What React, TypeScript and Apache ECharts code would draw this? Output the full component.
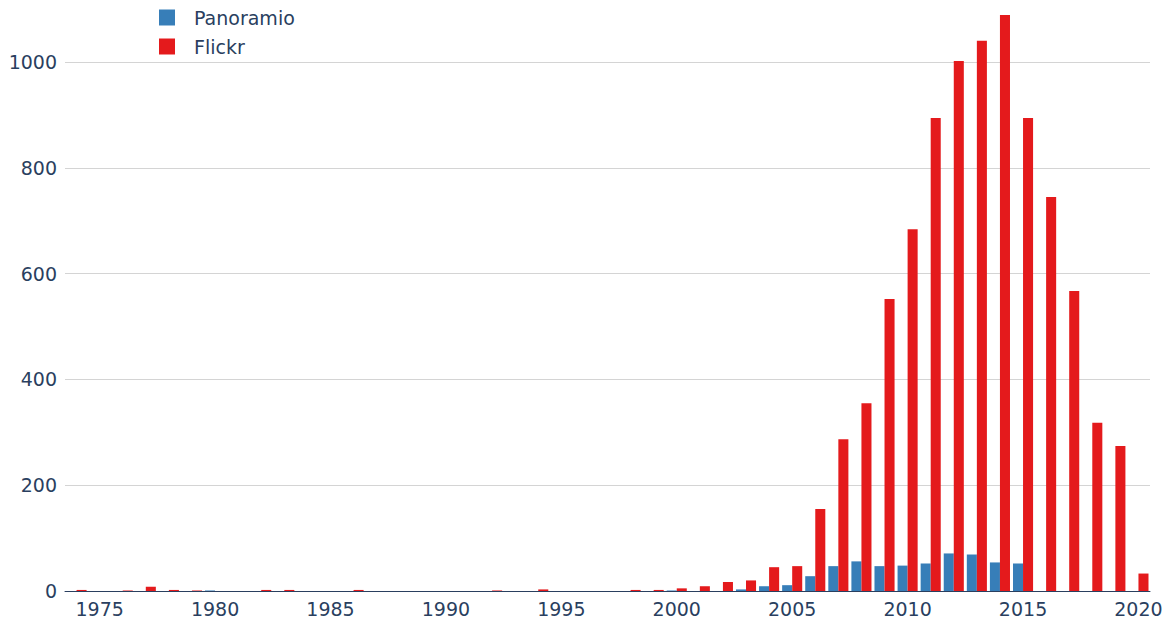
import React, { useEffect, useRef } from "react";
import * as echarts from "echarts";

const years: string[] = [
  "1974","1975","1976","1977","1978","1979","1980","1981","1982","1983",
  "1984","1985","1986","1987","1988","1989","1990","1991","1992","1993",
  "1994","1995","1996","1997","1998","1999","2000","2001","2002","2003",
  "2004","2005","2006","2007","2008","2009","2010","2011","2012","2013",
  "2014","2015","2016","2017","2018","2019","2020",
];

const panoramio: number[] = [
  0, 0, 0, 0, 0, 0, 1, 0, 0, 0,
  0, 0, 0, 0, 0, 0, 0, 0, 0, 0,
  0, 0, 0, 0, 0, 0, 1, 0, 0, 3,
  9, 11, 28, 47, 56, 47, 48, 52, 71, 69,
  54, 52, 0, 0, 0, 0, 0,
];

const flickr: number[] = [
  2, 0, 1, 8, 2, 1, 0, 0, 2, 2,
  0, 0, 2, 0, 0, 0, 0, 0, 1, 0,
  3, 0, 0, 0, 2, 2, 5, 9, 17, 20,
  45, 47, 155, 287, 355, 552, 684, 894, 1002, 1040,
  1089, 894, 745, 567, 318, 274, 33,
];

const yTicks = { min: 0, max: 1000, interval: 200 };

export default function App() {
  const ref = useRef<HTMLDivElement>(null);
  useEffect(() => {
    if (!ref.current) return;
    const chart = echarts.init(ref.current, undefined, { renderer: "svg" });
    const font = "DejaVu Sans, Verdana, sans-serif";
    chart.setOption({
      animation: false,
      backgroundColor: "#ffffff",
      textStyle: { fontFamily: font },
      legend: {
        orient: "vertical",
        left: 159,
        top: 8,
        padding: 0,
        itemWidth: 16,
        itemHeight: 16,
        itemGap: 10,
        icon: "rect",
        textStyle: { color: "#2a3f5f", fontSize: 19, fontFamily: font, padding: [0, 0, 0, 14] },
        data: ["Panoramio", "Flickr"],
      },
      grid: { left: 65, right: 16, top: 62, bottom: 31, containLabel: false },
      xAxis: {
        type: "category",
        data: years,
        boundaryGap: true,
        axisLine: { show: true, lineStyle: { color: "#2a3f5f", width: 1 } },
        axisTick: { show: false },
        axisLabel: {
          color: "#2a3f5f",
          fontSize: 19,
          fontFamily: font,
          margin: 8,
          interval: (idx: number, val: string) => Number(val) % 5 === 0,
        },
        splitLine: { show: false },
      },
      yAxis: {
        type: "value",
        min: yTicks.min,
        max: yTicks.max,
        interval: yTicks.interval,
        axisLine: { show: false },
        axisTick: { show: false },
        axisLabel: {
          color: "#2a3f5f",
          fontSize: 19,
          fontFamily: font,
          margin: 8,
          formatter: (v: number) => String(v),
        },
        splitLine: { show: true, lineStyle: { color: "#d4d4d4", width: 1 } },
      },
      series: [
        {
          name: "Panoramio",
          type: "bar",
          data: panoramio,
          itemStyle: { color: "#377eb8" },
          barGap: "0%",
          barCategoryGap: "13%",
          clip: false,
        },
        {
          name: "Flickr",
          type: "bar",
          data: flickr,
          itemStyle: { color: "#e41a1c" },
          barGap: "0%",
          barCategoryGap: "13%",
          clip: false,
        },
      ],
    });
    return () => chart.dispose();
  }, []);
  return (
    <div
      ref={ref}
      style={{ position: "fixed", left: 0, top: 0, width: 1166, height: 622 }}
    />
  );
}
